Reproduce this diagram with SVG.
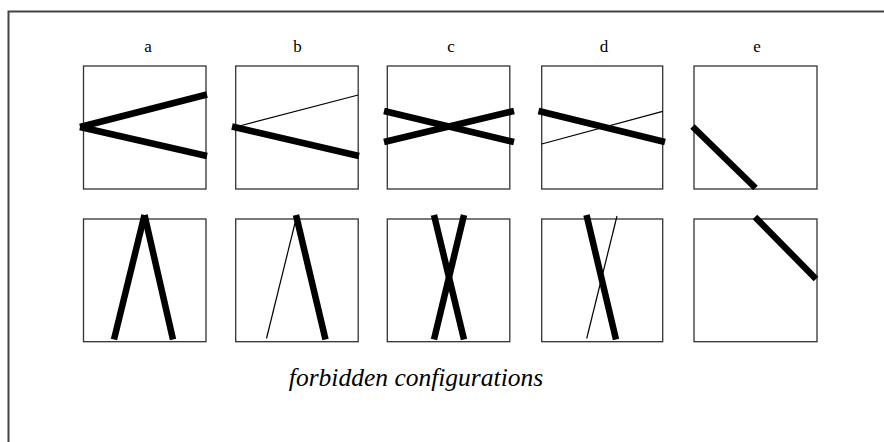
<svg xmlns="http://www.w3.org/2000/svg" width="884" height="442" viewBox="0 0 884 442">
<style>
.frame{fill:none;stroke:#444;stroke-width:2}
.box{fill:none;stroke:#333;stroke-width:1.3}
.thick{stroke:#000;stroke-width:6.5;stroke-linecap:butt;fill:none}
.thin{stroke:#000;stroke-width:1.2;fill:none}
.lbl{font-family:"Liberation Serif",serif;font-size:17px;text-anchor:middle;fill:#000}
.cap{font-family:"Liberation Serif",serif;font-style:italic;font-size:25.5px;text-anchor:middle;fill:#000}
</style>
<rect width="884" height="442" fill="#fff"/>
<path class="frame" d="M8.5,442 V11.5 H884"/>
<g id="labels">
<text class="lbl" x="148" y="52">a</text>
<text class="lbl" x="297.5" y="52">b</text>
<text class="lbl" x="451" y="52">c</text>
<text class="lbl" x="604" y="52">d</text>
<text class="lbl" x="757" y="52">e</text>
</g>
<g id="a-top">
<rect class="box" x="83.5" y="66" width="122.5" height="123"/>
<line class="thick" x1="80" y1="127" x2="207" y2="94.5"/>
<line class="thick" x1="80" y1="127" x2="207" y2="156"/>
</g>
<g id="b-top">
<rect class="box" x="235.7" y="66" width="122.5" height="123"/>
<line class="thin" x1="235.7" y1="127" x2="358.2" y2="95"/>
<line class="thick" x1="232" y1="126.5" x2="359" y2="156"/>
</g>
<g id="c-top">
<rect class="box" x="387.3" y="66" width="122.5" height="123"/>
<line class="thick" x1="384" y1="111" x2="514" y2="142"/>
<line class="thick" x1="384" y1="142" x2="514" y2="111"/>
</g>
<g id="d-top">
<rect class="box" x="541.7" y="66" width="121" height="123"/>
<line class="thick" x1="538.5" y1="111" x2="665" y2="142"/>
<line class="thin" x1="541.7" y1="144" x2="662.7" y2="111.3"/>
</g>
<g id="e-top">
<rect class="box" x="694" y="66" width="123" height="123"/>
<line class="thick" x1="692.5" y1="126.5" x2="755.5" y2="188"/>
</g>
<g id="a-bottom">
<rect class="box" x="83.5" y="219" width="122.5" height="122.7"/>
<line class="thick" x1="144.5" y1="215" x2="114" y2="339.5"/>
<line class="thick" x1="144.5" y1="215" x2="173" y2="339.5"/>
</g>
<g id="b-bottom">
<rect class="box" x="235.7" y="219" width="122.5" height="122.7"/>
<line class="thin" x1="296" y1="219" x2="266.5" y2="338.5"/>
<line class="thick" x1="296" y1="215" x2="325.5" y2="339.5"/>
</g>
<g id="c-bottom">
<rect class="box" x="387.3" y="219" width="122.5" height="122.7"/>
<line class="thick" x1="434" y1="215" x2="464" y2="339.5"/>
<line class="thick" x1="464" y1="215" x2="434" y2="339.5"/>
</g>
<g id="d-bottom">
<rect class="box" x="541.7" y="219" width="121" height="122.7"/>
<line class="thick" x1="586.5" y1="215" x2="616" y2="339.5"/>
<line class="thin" x1="617" y1="216" x2="586.7" y2="338.5"/>
</g>
<g id="e-bottom">
<rect class="box" x="694" y="219" width="123" height="122.7"/>
<line class="thick" x1="755" y1="217" x2="816" y2="279"/>
</g>
<text class="cap" x="416" y="386">forbidden configurations</text>
</svg>
